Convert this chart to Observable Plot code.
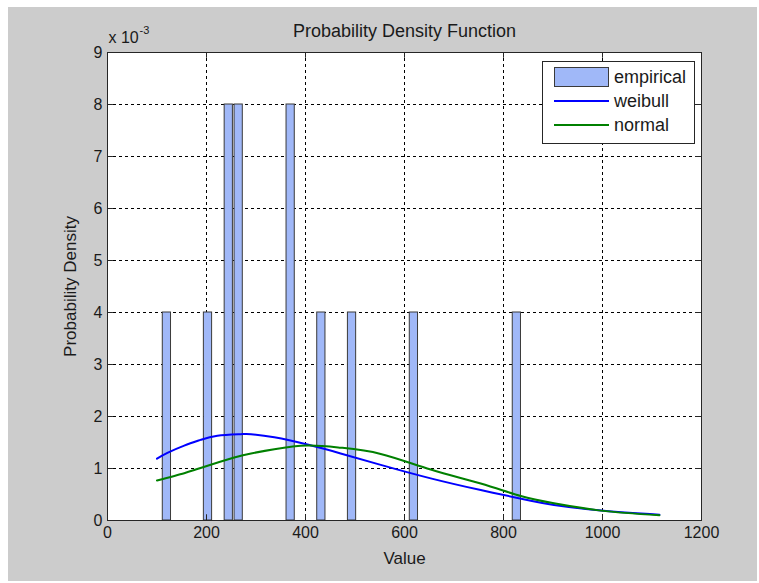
<!DOCTYPE html>
<html>
<head>
<meta charset="utf-8">
<script src="https://cdn.jsdelivr.net/npm/d3@7"></script>
<script src="https://cdn.jsdelivr.net/npm/@observablehq/plot@0.6"></script>
<style>
  html, body { margin: 0; padding: 0; background: #ffffff; }
  #wrap { position: relative; width: 759px; height: 583px; font-family: "Liberation Sans", Arial, sans-serif; }
  #bg { position: absolute; left: 8px; top: 7px; width: 749px; height: 574px; background: #cccccc; }
  #chart { position: absolute; left: 0; top: 0; }
  #legend { position: absolute; left: 542px; top: 61px; width: 151px; height: 81px; background: #ffffff; border: 1px solid #262626; font-size: 18px; color: #1a1a1a; }
  #legend .item { position: absolute; left: 0; width: 151px; height: 20px; }
  #legend .sw { position: absolute; left: 11px; width: 55px; }
  #legend .lab { position: absolute; left: 71px; top: -1px; line-height: 22px; }
</style>
</head>
<body>
<div id="wrap">
  <div id="bg"></div>
  <div id="chart"></div>
  <div id="legend"></div>
</div>
<script>
// ---- data (density values in units of 1e-3) ----
const xTicks = [0, 200, 400, 600, 800, 1000, 1200];
const yTicks = [0, 1, 2, 3, 4, 5, 6, 7, 8, 9];
const binCenters = [120, 203, 245, 265, 370, 432, 494, 619, 827];
const binHeights = [4, 4, 8, 8, 8, 4, 4, 4, 4];
const binWidth = 20.8;
const barFraction = 0.8;

const weibullX = [100, 121, 155, 188, 222, 269, 290, 337, 404, 471, 552, 653, 754, 855, 902, 997, 1115];
const weibullY = [1.19, 1.30, 1.44, 1.55, 1.63, 1.66, 1.66, 1.60, 1.46, 1.29, 1.07, 0.81, 0.585, 0.38, 0.30, 0.19, 0.11];
const normalX  = [100, 155, 188, 256, 290, 337, 404, 471, 552, 653, 754, 835, 902, 997, 1115];
const normalY  = [0.77, 0.91, 1.01, 1.21, 1.29, 1.37, 1.44, 1.40, 1.28, 0.98, 0.71, 0.47, 0.33, 0.19, 0.10];

const seriesNames = ["empirical", "weibull", "normal"];
const seriesColors = ["#a0b8f8", "#0000ff", "#008000"];

// ---- tables ----
const bars = binCenters.map((c, i) => ({c, h: binHeights[i]}));
const weibull = weibullX.map((x, i) => ({x, y: weibullY[i]}));
const normal = normalX.map((x, i) => ({x, y: normalY[i]}));
const innerX = xTicks.slice(1, -1);
const innerY = yTicks.slice(1, -1);

const font = "'Liberation Sans', Arial, sans-serif";
const ink = "#262626";
const txt = "#1a1a1a";

const chart = Plot.plot({
  width: 759,
  height: 583,
  marginLeft: 107,
  marginRight: 58,
  marginTop: 52,
  marginBottom: 63,
  style: {background: "transparent", fontFamily: font, fontSize: "16px", color: txt, overflow: "visible"},
  x: {domain: [0, 1200]},
  y: {domain: [0, 9]},
  marks: [
    Plot.frame({fill: "white", stroke: "none"}),
    Plot.ruleX(innerX, {x: d => d, stroke: "#000", strokeDasharray: "3,3", strokeWidth: 1}),
    Plot.ruleY(innerY, {y: d => d, stroke: "#000", strokeDasharray: "3,3", strokeWidth: 1}),
    Plot.rectY(bars, {
      x1: d => d.c - binWidth * barFraction / 2,
      x2: d => d.c + binWidth * barFraction / 2,
      y1: 0, y2: "h",
      fill: seriesColors[0], stroke: "#3a3a3a", strokeWidth: 1
    }),
    Plot.line(weibull, {x: "x", y: "y", stroke: seriesColors[1], strokeWidth: 2, curve: "natural"}),
    Plot.line(normal, {x: "x", y: "y", stroke: seriesColors[2], strokeWidth: 2, curve: "natural"}),
    // inward ticks on all four sides
    Plot.ruleX(xTicks, {x: d => d, y1: 0, y2: 0.11, stroke: ink}),
    Plot.ruleX(xTicks, {x: d => d, y1: 9, y2: 8.89, stroke: ink}),
    Plot.ruleY(yTicks, {y: d => d, x1: 0, x2: 12, stroke: ink}),
    Plot.ruleY(yTicks, {y: d => d, x1: 1200, x2: 1188, stroke: ink}),
    Plot.frame({stroke: ink, strokeWidth: 1}),
    Plot.axisX(xTicks, {tickSize: 0, tickPadding: 6, fontSize: 16, label: null, tickFormat: d => String(d)}),
    Plot.axisY(yTicks, {tickSize: 0, tickPadding: 5, fontSize: 16, label: null, tickFormat: d => String(d)}),
    // titles
    Plot.text(["Probability Density Function"], {frameAnchor: "top", dy: -21, fontSize: 18, fill: txt, textAnchor: "middle", lineAnchor: "middle"}),
    Plot.text(["Value"], {frameAnchor: "bottom", dy: 38, fontSize: 17, fill: txt, textAnchor: "middle", lineAnchor: "middle"}),
    Plot.text(["Probability Density"], {frameAnchor: "left", dx: -37, rotate: -90, fontSize: 17, fill: txt, textAnchor: "middle", lineAnchor: "middle"}),
    Plot.text(["x 10"], {frameAnchor: "top-left", dx: 1, dy: -15, textAnchor: "start", lineAnchor: "middle", fontSize: 16, fill: txt}),
    Plot.text(["-3"], {frameAnchor: "top-left", dx: 32, dy: -22, textAnchor: "start", lineAnchor: "middle", fontSize: 11, fill: txt})
  ]
});
document.getElementById("chart").append(chart);

// ---- legend ----
const legend = document.getElementById("legend");
seriesNames.forEach((name, i) => {
  const item = document.createElement("div");
  item.className = "item";
  item.style.top = (5 + i * 24) + "px";
  const sw = document.createElement("div");
  sw.className = "sw";
  if (i === 0) {
    sw.style.top = "0px";
    sw.style.height = "18px";
    sw.style.background = seriesColors[i];
    sw.style.border = "1px solid #3a3a3a";
    sw.style.width = "53px";
  } else {
    sw.style.top = "9px";
    sw.style.height = "2px";
    sw.style.background = seriesColors[i];
  }
  const lab = document.createElement("div");
  lab.className = "lab";
  lab.textContent = name;
  item.append(sw, lab);
  legend.append(item);
});
</script>
</body>
</html>
